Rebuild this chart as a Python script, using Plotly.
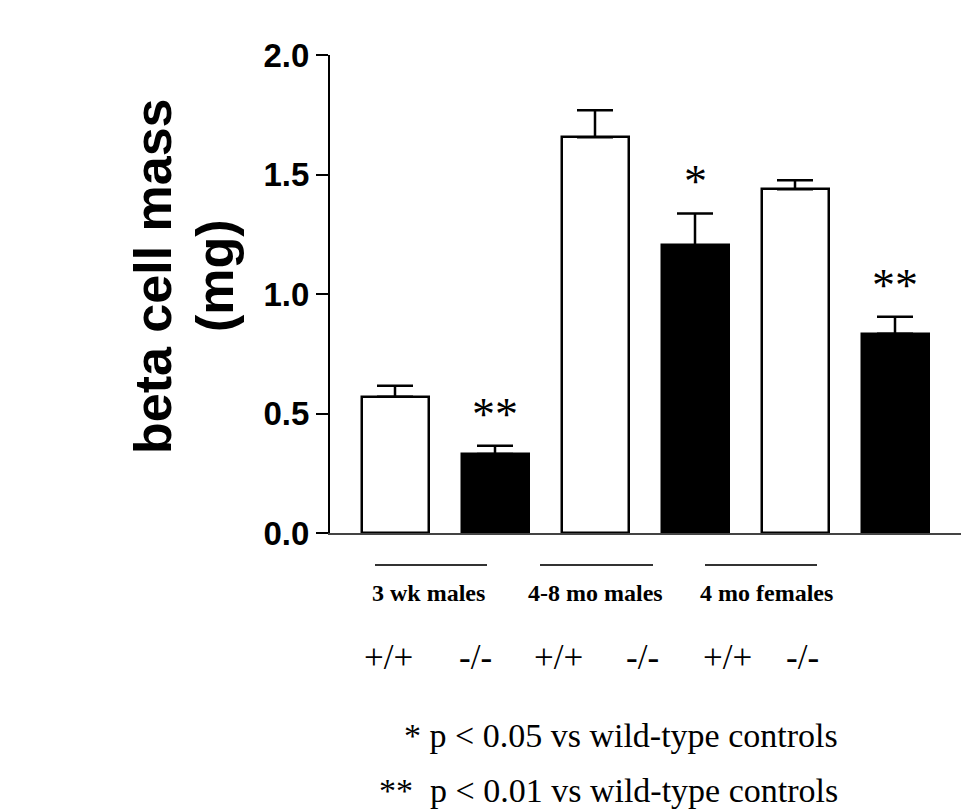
import plotly.graph_objects as go

# ---- data ----
groups = ["3 wk males", "4-8 mo males", "4 mo females"]
genotypes = ["+/+", "-/-"]
wt_mass = [0.570, 1.656, 1.438]   # +/+ (white bars)
wt_sem = [0.046, 0.113, 0.038]
ko_mass = [0.331, 1.203, 0.834]   # -/- (black bars)
ko_sem = [0.034, 0.134, 0.071]
significance = ["**", "*", "**"]
yticks = [0.0, 0.5, 1.0, 1.5, 2.0]
ytitle_lines = ["beta cell mass", "(mg)"]
footnotes = ["* p < 0.05 vs wild-type controls", "**  p < 0.01 vs wild-type controls"]

SERIF = "Liberation Serif, Times New Roman, serif"
SANS = "Liberation Sans, Arial, sans-serif"

OFF = 8  # page body margin
W, H = 969, 809
# target plot area on screen: x 330..965, y 55..533
L = 330 - OFF
R = W + OFF - 965
T = 55 - OFF
B = H + OFF - 533
plot_w = W - L - R
plot_h = H - T - B


def ypaper(py):
    return (533 - py) / plot_h


def xpaper(px):
    return (px - 330) / plot_w


def xdata(px):
    return (px - 395) / 100.0


wt_x = [2 * i for i in range(len(groups))]
ko_x = [2 * i + 1 for i in range(len(groups))]

fig = go.Figure()
fig.add_trace(go.Bar(
    x=wt_x, y=wt_mass, width=0.67,
    marker=dict(color="white", line=dict(color="black", width=2.5)),
    error_y=dict(type="data", symmetric=False, array=wt_sem, arrayminus=[0] * len(wt_sem),
                 color="black", thickness=2.5, width=18),
    name=genotypes[0], showlegend=False,
))
fig.add_trace(go.Bar(
    x=ko_x, y=ko_mass, width=0.67,
    marker=dict(color="black", line=dict(color="black", width=2.5)),
    error_y=dict(type="data", symmetric=False, array=ko_sem, arrayminus=[0] * len(ko_sem),
                 color="black", thickness=2.5, width=18),
    name=genotypes[1], showlegend=False,
))

ann = []
# significance stars
for xi, m, s, sig in zip(ko_x, ko_mass, ko_sem, significance):
    ann.append(dict(x=xi, y=m + s, xref="x", yref="y", text=sig, showarrow=False,
                    yanchor="bottom", yshift=4,
                    font=dict(family=SERIF, size=46, color="black")))

# group labels + lines
group_label_px = [428, 595, 766]
group_line_px = [(375, 487), (540, 653), (705, 817)]
shapes = []
for g, cx, (x0, x1) in zip(groups, group_label_px, group_line_px):
    ann.append(dict(x=xdata(cx), y=ypaper(593), xref="x", yref="paper", text=g,
                    showarrow=False, xanchor="center", yanchor="middle",
                    font=dict(family=SERIF, size=24, color="black", weight="bold")))
    shapes.append(dict(type="line", xref="x", yref="paper",
                       x0=xdata(x0), x1=xdata(x1), y0=ypaper(565), y1=ypaper(565),
                       line=dict(color="#333", width=2)))

# genotype labels
geno_px = [388, 475, 558, 642, 727, 802]
for i, cx in enumerate(geno_px):
    ann.append(dict(x=xdata(cx), y=ypaper(658), xref="x", yref="paper",
                    text=genotypes[i % 2], showarrow=False, xanchor="center", yanchor="middle",
                    font=dict(family=SERIF, size=35, color="black")))

# footnotes
for txt, cy in zip(footnotes, [735, 790]):
    ann.append(dict(x=xdata(840), y=ypaper(cy), xref="x", yref="paper", text=txt,
                    showarrow=False, xanchor="right", yanchor="middle",
                    font=dict(family=SERIF, size=34, color="black")))

# y-axis title (two rotated lines)
for txt, cx in zip(ytitle_lines, [153, 215]):
    ann.append(dict(x=xpaper(cx), y=ypaper(276), xref="paper", yref="paper",
                    text=txt, textangle=-90, showarrow=False,
                    xanchor="center", yanchor="middle",
                    font=dict(family=SANS, size=52, color="black", weight="bold")))

fig.update_layout(
    width=W, height=H,
    margin=dict(l=L, r=R, t=T, b=B),
    paper_bgcolor="white", plot_bgcolor="white",
    annotations=ann,
    shapes=shapes,
    bargap=0,
)
fig.update_xaxes(range=[-0.65, 5.7], showline=True, linecolor="#444", linewidth=2,
                 showticklabels=False, ticks="", showgrid=False, zeroline=False)
fig.update_yaxes(range=[0, 2.0], tickvals=yticks, ticktext=[f"{v:.1f}" for v in yticks],
                 ticks="outside", ticklen=12, tickwidth=2, tickcolor="black",
                 showline=True, linecolor="black", linewidth=2, showgrid=False, zeroline=False,
                 tickfont=dict(family=SANS, size=33, color="black", weight="bold"))

fig.write_html("out.html")
